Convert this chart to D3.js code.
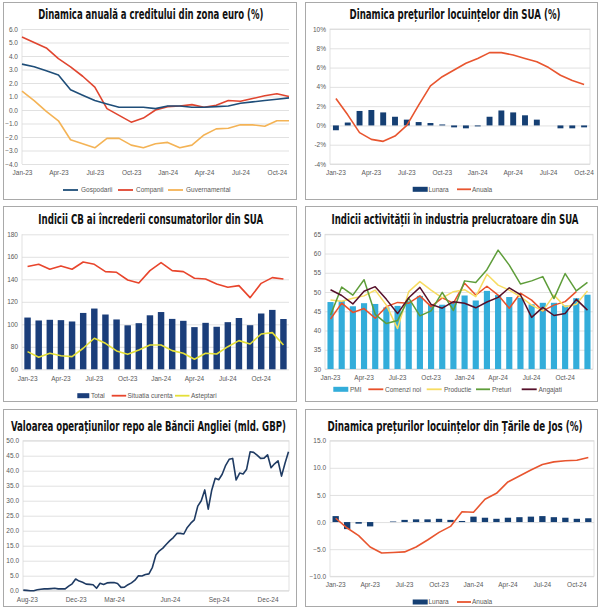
<!DOCTYPE html>
<html><head><meta charset="utf-8">
<script src="https://cdn.jsdelivr.net/npm/d3@7"></script>
<style>body{margin:0;background:#fff}</style>
</head><body>
<svg id="c" width="600" height="608"></svg>
<script>
// ---------- DATA ----------
const monthsAll = ["Jan-23","Feb-23","Mar-23","Apr-23","May-23","Jun-23","Jul-23","Aug-23","Sep-23","Oct-23","Nov-23","Dec-23",
                   "Jan-24","Feb-24","Mar-24","Apr-24","May-24","Jun-24","Jul-24","Aug-24","Sep-24","Oct-24","Nov-24","Dec-24"];

// Panel 1: euro area credit dynamics (Jan-23..Nov-24)
const p1Months = monthsAll.slice(0, 23);
const gospodarii = [3.4,3.2,2.9,2.6,1.5,1.1,0.7,0.45,0.2,0.2,0.2,0.1,0.3,0.3,0.2,0.2,0.25,0.3,0.5,0.6,0.7,0.8,0.9];
const companii   = [5.4,5.0,4.6,3.8,3.2,2.5,1.7,0.1,-0.4,-0.9,-0.6,0.0,0.25,0.3,0.4,0.2,0.35,0.7,0.65,0.85,1.05,1.2,1.0];
const guvernamental = [1.4,0.7,-0.1,-0.8,-2.2,-2.5,-2.8,-2.1,-2.1,-2.6,-2.8,-2.5,-2.4,-2.8,-2.6,-1.85,-1.4,-1.35,-1.1,-1.1,-1.2,-0.8,-0.8];
const p1Ticks = [-4,-3,-2,-1,0,1,2,3,4,5,6];

// Panel 2: US house prices (Jan-23..Oct-24)
const p2Months = monthsAll.slice(0, 22);
const usLunara = [-0.5,0.3,1.5,1.6,1.35,0.9,0.6,0.35,0.25,0.1,-0.2,-0.3,-0.1,0.9,1.55,1.35,1.05,0.6,0.0,-0.3,-0.3,-0.2];
const usAnuala = [2.8,1.1,-0.75,-1.45,-1.65,-1.1,0.0,2.1,4.1,5.05,5.75,6.45,6.95,7.55,7.55,7.3,6.95,6.6,6.0,5.2,4.65,4.25];
const p2Ticks = [-4,-2,0,2,4,6,8,10];

// Panel 3: CB consumer confidence (Jan-23..Dec-24)
const p3Months = monthsAll.slice(0, 24);
const cbTotal = [106.0,103.4,104.0,103.7,102.5,110.1,114.0,108.7,104.3,99.1,101.0,108.0,110.9,104.8,103.1,97.5,101.3,97.8,101.9,105.6,99.2,109.6,112.8,104.7];
const cbSituatia = [151.3,153.3,148.9,151.9,148.9,155.4,153.3,146.8,146.2,139.4,136.7,147.7,154.8,147.7,146.8,140.9,140.3,135.9,132.9,134.4,123.7,136.4,141.5,140.3];
const cbAsteptari = [75.7,70.7,74.2,72.1,71.3,78.7,87.6,83.1,76.3,73.3,77.2,81.6,81.6,76.6,74.2,68.9,74.2,73.6,80.1,85.5,82.5,91.4,92.6,81.6];
const p3Ticks = [60,80,100,120,140,160,180];

// Panel 4: US manufacturing (Jan-23..Dec-24)
const p4Months = monthsAll.slice(0, 24);
const pmi = [47.4,47.7,46.3,47.1,46.9,46.0,46.4,47.6,49.0,46.7,46.7,47.4,49.1,47.8,50.3,49.2,48.7,48.5,46.8,47.2,47.2,46.5,48.4,49.3];
const comenziNoi = [43.0,47.1,44.7,45.7,43.2,46.2,47.3,47.1,49.0,46.2,48.5,47.1,52.3,49.2,51.5,49.2,45.8,49.7,47.9,45.1,46.6,47.5,50.1];
const productie = [47.9,47.6,48.4,49.0,50.5,46.6,40.5,50.1,52.7,50.5,48.5,50.1,50.6,48.8,54.6,51.8,50.5,48.8,46.6,45.1,49.2,46.2,46.8,50.3];
const preturi = [44.0,51.3,49.2,53.2,44.2,41.8,42.6,48.4,43.8,45.1,49.9,45.2,52.9,52.5,55.8,60.9,57.0,52.1,52.9,54.0,48.3,54.8,50.3,52.5];
const angajati = [50.6,49.1,46.9,50.2,51.4,48.1,44.4,48.5,51.2,46.8,45.8,47.5,47.1,45.9,47.4,48.6,51.1,49.3,43.4,46.0,43.9,44.4,48.1,45.3];
const p4Ticks = [30,35,40,45,50,55,60,65];

// Panel 5: BoE repo operations (weekly, bn GBP)
const repo = [0.2,0.1,0.0,0.0,0.3,0.5,0.6,0.6,0.7,0.8,0.6,0.6,0.6,1.5,2.3,3.9,3.2,2.8,2.2,2.1,2.0,0.8,2.5,2.1,2.6,2.7,2.7,2.4,1.1,1.2,
              2.0,2.6,3.5,5.0,4.9,5.4,5.6,7.8,11.9,13.3,14.2,15.5,16.7,17.7,19.1,19.1,18.9,21.1,22.5,23.6,28.2,30.0,33.6,27.2,33.5,
              37.5,37.0,38.8,41.8,43.8,44.1,36.9,39.2,38.9,40.5,46.3,46.1,45.2,44.1,44.2,45.3,41.0,42.3,43.3,38.2,42.5,46.3];
const repoLabels = ["Aug-23","Dec-23","Mar-24","Jun-24","Sep-24","Dec-24"];
const repoLabelIdx = [1,15,26,42,56,70];
const p5Ticks = [0,5,10,15,20,25,30,35,40,45,50];

// Panel 6: Netherlands house prices (Jan-23..Nov-24)
const p6Months = monthsAll.slice(0, 23);
const nlLunara = [1.1,-1.3,-0.3,-0.8,0.0,0.1,0.4,0.5,0.5,0.6,0.4,0.2,1.0,0.8,0.6,0.8,0.9,1.0,1.1,0.9,0.8,0.6,0.7];
const nlAnuala = [0.7,-1.1,-2.5,-4.6,-5.7,-5.6,-5.5,-4.6,-3.3,-1.9,-0.8,1.9,1.8,4.2,5.3,7.4,8.5,9.6,10.6,11.1,11.3,11.4,11.9];
const p6Ticks = [-10,-5,0,5,10,15];

const quarterIdx = [0,3,6,9,12,15,18,21];

// ---------- HELPERS ----------
const svg = d3.select("#c");
const FONT = "'Liberation Sans', Arial, sans-serif";
const TFONT = "'Liberation Sans Narrow','DejaVu Sans Condensed','Liberation Sans',sans-serif";
const GRID = "#d9d9d9", TXT = "#595959";

function panelBox(x0, y0, x1, y1) {
  svg.append("rect").attr("x", x0 + 0.5).attr("y", y0 + 0.5)
    .attr("width", x1 - x0).attr("height", y1 - y0)
    .attr("fill", "#fff").attr("stroke", "#a9a9a9").attr("stroke-width", 1);
}
function title(txt, cx, y, w) {
  svg.append("text").attr("x", cx).attr("y", y).attr("text-anchor", "middle")
    .attr("font-family", TFONT).attr("font-weight", "bold").attr("font-size", 13.5)
    .attr("textLength", w).attr("lengthAdjust", "spacingAndGlyphs")
    .attr("fill", "#111").text(txt);
}
function yAxis(y, x0, x1, ticks, fmt) {
  const g = svg.append("g").attr("transform", `translate(${x0},0)`)
    .call(d3.axisLeft(y).tickValues(ticks).tickSize(-(x1 - x0)).tickPadding(4).tickFormat(fmt));
  g.select(".domain").remove();
  g.selectAll(".tick line").attr("stroke", GRID).attr("stroke-width", 0.8);
  g.selectAll(".tick text").attr("fill", TXT).attr("font-size", 6.5).attr("font-family", FONT);
  return g;
}
function xAxis(x, yPos, tickVals, fmt) {
  const g = svg.append("g").attr("transform", `translate(0,${yPos})`)
    .call(d3.axisBottom(x).tickValues(tickVals).tickSize(0).tickPadding(0).tickFormat(fmt));
  g.select(".domain").remove();
  g.selectAll(".tick text").attr("fill", TXT).attr("font-size", 6.5).attr("font-family", FONT).attr("dy", "0.71em");
  return g;
}
function vline(x, y0, y1) {
  svg.append("line").attr("x1", x).attr("x2", x).attr("y1", y0).attr("y2", y1).attr("stroke", GRID).attr("stroke-width", 0.8);
}
function plotFrame(x0, y0, x1, y1) {
  svg.append("rect").attr("x", x0).attr("y", y0).attr("width", x1 - x0).attr("height", y1 - y0)
    .attr("fill", "none").attr("stroke", GRID).attr("stroke-width", 0.8);
}
function drawLine(xf, y, vals, color, w) {
  svg.append("path").datum(vals)
    .attr("fill", "none").attr("stroke", color).attr("stroke-width", w || 1.6)
    .attr("stroke-linejoin", "round")
    .attr("d", d3.line().x((d, i) => xf(i)).y(d => y(d)));
}
function drawBars(x, y, cats, vals, color, base) {
  const b = base === undefined ? 0 : base;
  svg.append("g").selectAll("rect").data(vals).join("rect")
    .attr("x", (d, i) => x(cats[i])).attr("width", x.bandwidth())
    .attr("y", d => y(Math.max(b, d))).attr("height", d => Math.abs(y(d) - y(b)))
    .attr("fill", color);
}
function legend(items, yc) {
  const g = svg.append("g");
  items.forEach(it => {
    if (it.type === "rect") {
      g.append("rect").attr("x", it.x).attr("y", yc - 2.5).attr("width", it.w).attr("height", 5).attr("fill", it.color);
    } else {
      g.append("line").attr("x1", it.x).attr("x2", it.x + it.w).attr("y1", yc).attr("y2", yc)
        .attr("stroke", it.color).attr("stroke-width", 1.8);
    }
    g.append("text").attr("x", it.tx).attr("y", yc).attr("dy", "0.35em")
      .attr("font-size", 6.5).attr("font-family", FONT).attr("fill", TXT).text(it.label);
  });
}

// ---------- PANEL BOXES ----------
panelBox(3, 2, 296, 199);
panelBox(305, 2, 597, 199);
panelBox(3, 206, 296, 401);
panelBox(305, 206, 597, 401);
panelBox(3, 409, 296, 606);
panelBox(305, 409, 597, 606);

// ---------- PANEL 1 ----------
{
  const x0 = 22, x1 = 289, yTop = 29, yBot = 164;
  const x = d3.scalePoint().domain(p1Months).range([x0, x1]);
  const y = d3.scaleLinear().domain([-4, 6]).range([yBot, yTop]);
  title("Dinamica anuală a creditului din zona euro (%)", 150.8, 19, 225);
  yAxis(y, x0, x1, p1Ticks, d3.format(".1f"));
  vline(x0, yTop, yBot);
  xAxis(x, 170, quarterIdx.map(i => p1Months[i]), d => d);
  const xf = i => x(p1Months[i]);
  drawLine(xf, y, guvernamental, "#F4B355", 1.6);
  drawLine(xf, y, companii, "#E0452F", 1.6);
  drawLine(xf, y, gospodarii, "#1F4E79", 1.6);
  legend([
    {type: "line", x: 63, w: 15, color: "#1F4E79", tx: 81, label: "Gospodarii"},
    {type: "line", x: 118, w: 15, color: "#E0452F", tx: 136, label: "Companii"},
    {type: "line", x: 168, w: 15, color: "#F4B355", tx: 186, label: "Guvernamental"}
  ], 190);
}

// ---------- PANEL 2 ----------
{
  const x0 = 330, x1 = 590, yTop = 29, yBot = 164;
  const x = d3.scaleBand().domain(p2Months).range([x0, x1]).paddingInner(0.5).paddingOuter(0.25);
  const y = d3.scaleLinear().domain([-4, 10]).range([yBot, yTop]);
  title("Dinamica prețurilor locuințelor din SUA (%)", 455, 18.5, 211);
  yAxis(y, x0, x1, p2Ticks, d => d + "%");
  plotFrame(x0, yTop, x1, yBot);
  xAxis(x, 170.5, quarterIdx.map(i => p2Months[i]), d => d);
  drawBars(x, y, p2Months, usLunara, "#153F73");
  drawLine(i => x(p2Months[i]) + x.bandwidth() / 2, y, usAnuala, "#E8552F", 1.6);
  legend([
    {type: "rect", x: 412.7, w: 15, color: "#153F73", tx: 428.5, label: "Lunara"},
    {type: "line", x: 457, w: 14, color: "#E8552F", tx: 472, label: "Anuala"}
  ], 189.3);
}

// ---------- PANEL 3 ----------
{
  const x0 = 22, x1 = 289, yTop = 234.3, yBot = 369.3;
  const x = d3.scaleBand().domain(p3Months).range([x0, x1]).paddingInner(0.42).paddingOuter(0.21);
  const y = d3.scaleLinear().domain([60, 180]).range([yBot, yTop]);
  title("Indicii CB ai încrederii consumatorilor din SUA", 150.8, 224, 225);
  yAxis(y, x0, x1, p3Ticks, d3.format("d"));
  vline(x0, yTop, yBot);
  xAxis(x, 376, quarterIdx.map(i => p3Months[i]), d => d);
  drawBars(x, y, p3Months, cbTotal, "#1B3E7A", 60);
  const xf = i => x(p3Months[i]) + x.bandwidth() / 2;
  drawLine(xf, y, cbSituatia, "#E8452C", 1.6);
  drawLine(xf, y, cbAsteptari, "#E4DF38", 1.6);
  legend([
    {type: "rect", x: 77.3, w: 12, color: "#1B3E7A", tx: 91, label: "Total"},
    {type: "line", x: 111.7, w: 14.5, color: "#E8452C", tx: 127.5, label: "Situatia curenta"},
    {type: "line", x: 175, w: 14.5, color: "#E4DF38", tx: 191, label: "Asteptari"}
  ], 395.7);
}

// ---------- PANEL 4 ----------
{
  const x0 = 325, x1 = 593, yTop = 234.3, yBot = 369;
  const x = d3.scaleBand().domain(p4Months).range([x0, x1]).paddingInner(0.45).paddingOuter(0.22);
  const y = d3.scaleLinear().domain([30, 65]).range([yBot, yTop]);
  title("Indicii activității în industria prelucratoare din SUA", 455, 224, 247);
  yAxis(y, x0, x1, p4Ticks, d3.format("d"));
  plotFrame(x0, yTop, x1, yBot);
  xAxis(x, 375.5, quarterIdx.map(i => p4Months[i]), d => d);
  drawBars(x, y, p4Months, pmi, "#33ADDA", 30);
  const xf = i => x(p4Months[i]) + x.bandwidth() / 2;
  drawLine(xf, y, comenziNoi, "#E8502A", 1.5);
  drawLine(xf, y, productie, "#F7DC62", 1.5);
  drawLine(xf, y, preturi, "#5E9D3A", 1.5);
  drawLine(xf, y, angajati, "#55102A", 1.5);
  legend([
    {type: "rect", x: 333.3, w: 15, color: "#33ADDA", tx: 350, label: "PMI"},
    {type: "line", x: 368.3, w: 15, color: "#E8502A", tx: 385, label: "Comenzi noi"},
    {type: "line", x: 426.7, w: 15, color: "#F7DC62", tx: 444, label: "Productie"},
    {type: "line", x: 476, w: 14, color: "#5E9D3A", tx: 492, label: "Preturi"},
    {type: "line", x: 521.7, w: 15, color: "#55102A", tx: 538.5, label: "Angajati"}
  ], 389.3);
}

// ---------- PANEL 5 ----------
{
  const x0 = 23, x1 = 289, yTop = 440.7, yBot = 590.7;
  const x = d3.scaleLinear().domain([0, repo.length - 1]).range([x0 + 0.3, x1 - 0.5]);
  const y = d3.scaleLinear().domain([0, 50]).range([yBot, yTop]);
  title("Valoarea operațiunilor repo ale Băncii Angliei (mld. GBP)", 148.4, 431.3, 275);
  yAxis(y, x0, x1, p5Ticks, d3.format(".1f"));
  plotFrame(x0, yTop, x1, yBot);
  xAxis(x, 597, repoLabelIdx, (d, i) => repoLabels[i]);
  drawLine(i => x(i), y, repo, "#1F3B63", 1.6);
}

// ---------- PANEL 6 ----------
{
  const x0 = 330, x1 = 594, yTop = 440.7, yBot = 576.3;
  const x = d3.scaleBand().domain(p6Months).range([x0, x1]).paddingInner(0.45).paddingOuter(0.22);
  const y = d3.scaleLinear().domain([-10, 15]).range([yBot, yTop]);
  title("Dinamica prețurilor locuințelor din Țările de Jos (%)", 455, 431.3, 255);
  yAxis(y, x0, x1, p6Ticks, d3.format(".1f"));
  plotFrame(x0, yTop, x1, yBot);
  xAxis(x, 582.5, quarterIdx.map(i => p6Months[i]), d => d);
  drawBars(x, y, p6Months, nlLunara, "#153F73");
  drawLine(i => x(p6Months[i]) + x.bandwidth() / 2, y, nlAnuala, "#E8552F", 1.6);
  legend([
    {type: "rect", x: 412.7, w: 15, color: "#153F73", tx: 428.5, label: "Lunara"},
    {type: "line", x: 457, w: 14, color: "#E8552F", tx: 472, label: "Anuala"}
  ], 602);
}
</script>
</body></html>
